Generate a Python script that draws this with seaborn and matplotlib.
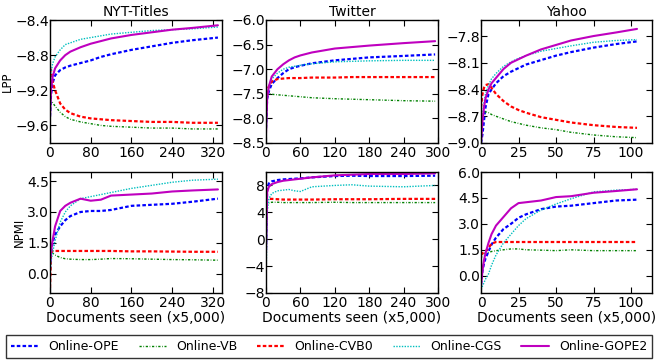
import numpy as np
import pandas as pd
import matplotlib
matplotlib.use("Agg")
import matplotlib.pyplot as plt
import seaborn as sns

# ---------------- data ----------------
methods = ["Online-OPE", "Online-VB", "Online-CVB0", "Online-CGS", "Online-GOPE2"]
datasets = ["NYT-Titles", "Twitter", "Yahoo"]

nyt_x = [0, 2, 5, 10, 20, 30, 40, 60, 80, 100, 120, 160, 200, 240, 280, 330]
nyt_lpp_ope = [-9.5, -9.25, -9.12, -9.03, -8.97, -8.94, -8.92, -8.89, -8.86, -8.82, -8.79, -8.74, -8.70, -8.66, -8.63, -8.60]
nyt_lpp_vb = [-9.3, -9.32, -9.34, -9.38, -9.45, -9.50, -9.53, -9.56, -9.58, -9.60, -9.61, -9.62, -9.63, -9.63, -9.64, -9.64]
nyt_lpp_cvb0 = [-8.95, -8.97, -9.1, -9.2, -9.35, -9.42, -9.46, -9.50, -9.52, -9.53, -9.54, -9.55, -9.56, -9.56, -9.57, -9.57]
nyt_lpp_cgs = [-9.2, -9.0, -8.9, -8.82, -8.74, -8.68, -8.66, -8.62, -8.60, -8.58, -8.56, -8.54, -8.52, -8.51, -8.50, -8.48]
nyt_lpp_gope2 = [-9.5, -9.2, -9.05, -8.95, -8.86, -8.80, -8.76, -8.71, -8.67, -8.64, -8.61, -8.57, -8.54, -8.51, -8.49, -8.46]

nyt_npmi_ope = [0.2, 1.0, 1.5, 1.9, 2.3, 2.6, 2.8, 3.0, 3.05, 3.05, 3.1, 3.3, 3.35, 3.4, 3.5, 3.65]
nyt_npmi_vb = [1.3, 1.1, 1.0, 0.9, 0.78, 0.72, 0.7, 0.68, 0.68, 0.7, 0.73, 0.72, 0.7, 0.68, 0.67, 0.65]
nyt_npmi_cvb0 = [-0.7, 1.0, 1.1, 1.1, 1.1, 1.1, 1.1, 1.1, 1.1, 1.1, 1.1, 1.08, 1.08, 1.07, 1.06, 1.06]
nyt_npmi_cgs = [0.0, 0.6, 1.0, 1.6, 2.5, 3.0, 3.3, 3.65, 3.75, 3.85, 3.95, 4.15, 4.3, 4.45, 4.55, 4.6]
nyt_npmi_gope2 = [0.5, 1.1, 1.6, 2.3, 3.05, 3.3, 3.45, 3.65, 3.55, 3.6, 3.8, 3.85, 3.9, 4.0, 4.05, 4.1]

tw_x = [0, 2, 5, 10, 20, 30, 40, 50, 60, 80, 120, 150, 180, 240, 295]
tw_lpp_ope = [-8.2, -7.6, -7.45, -7.3, -7.18, -7.08, -7.0, -6.96, -6.93, -6.88, -6.82, -6.79, -6.76, -6.73, -6.70]
tw_lpp_vb = [-7.5, -7.5, -7.5, -7.51, -7.52, -7.53, -7.54, -7.55, -7.56, -7.58, -7.60, -7.61, -7.62, -7.64, -7.65]
tw_lpp_cvb0 = [-7.5, -7.45, -7.35, -7.25, -7.2, -7.19, -7.18, -7.18, -7.18, -7.17, -7.17, -7.16, -7.16, -7.16, -7.16]
tw_lpp_cgs = [-8.4, -7.6, -7.35, -7.2, -7.08, -7.0, -6.96, -6.94, -6.92, -6.89, -6.85, -6.84, -6.83, -6.82, -6.82]
tw_lpp_gope2 = [-8.3, -7.6, -7.35, -7.15, -7.0, -6.9, -6.82, -6.76, -6.72, -6.66, -6.58, -6.55, -6.52, -6.47, -6.43]

tw_npmi_ope = [-1.5, 7.5, 8.3, 8.6, 8.8, 8.9, 8.95, 9.0, 9.05, 9.2, 9.4, 9.45, 9.4, 9.4, 9.45]
tw_npmi_vb = [5.0, 5.3, 5.4, 5.5, 5.5, 5.45, 5.45, 5.45, 5.45, 5.45, 5.5, 5.45, 5.45, 5.45, 5.45]
tw_npmi_cvb0 = [5.5, 5.9, 6.0, 6.0, 5.95, 5.9, 5.9, 5.9, 5.9, 5.9, 5.95, 5.95, 5.95, 6.0, 6.0]
tw_npmi_cgs = [-7.0, 4.0, 6.0, 6.8, 7.2, 7.3, 7.4, 7.2, 7.1, 7.8, 8.0, 8.1, 7.9, 7.8, 8.0]
tw_npmi_gope2 = [-2.0, 7.0, 7.8, 8.2, 8.5, 8.7, 8.8, 8.9, 9.0, 9.2, 9.5, 9.6, 9.7, 9.7, 9.8]

ya_x = [0, 1, 2, 3, 5, 7, 10, 15, 20, 25, 30, 40, 50, 60, 75, 90, 104]
ya_lpp_ope = [-9.0, -8.9, -8.75, -8.6, -8.45, -8.4, -8.33, -8.25, -8.2, -8.16, -8.12, -8.07, -8.02, -7.98, -7.93, -7.89, -7.86]
ya_lpp_vb = [-9.0, -8.75, -8.66, -8.65, -8.66, -8.68, -8.7, -8.73, -8.76, -8.78, -8.8, -8.83, -8.85, -8.88, -8.91, -8.93, -8.94]
ya_lpp_cvb0 = [-8.6, -8.45, -8.38, -8.35, -8.34, -8.38, -8.45, -8.53, -8.59, -8.63, -8.66, -8.71, -8.74, -8.77, -8.8, -8.82, -8.83]
ya_lpp_cgs = [-8.9, -8.7, -8.55, -8.45, -8.35, -8.28, -8.22, -8.14, -8.09, -8.05, -8.02, -7.97, -7.94, -7.91, -7.87, -7.85, -7.84]
ya_lpp_gope2 = [-9.0, -8.75, -8.6, -8.5, -8.4, -8.33, -8.27, -8.17, -8.1, -8.06, -8.02, -7.95, -7.9, -7.85, -7.8, -7.76, -7.72]

ya_npmi_ope = [-0.5, 0.3, 0.7, 1.0, 1.4, 1.8, 2.2, 2.7, 3.0, 3.35, 3.55, 3.85, 4.0, 4.05, 4.2, 4.35, 4.4]
ya_npmi_vb = [1.0, 1.2, 1.3, 1.3, 1.35, 1.4, 1.45, 1.5, 1.55, 1.55, 1.5, 1.48, 1.45, 1.5, 1.45, 1.45, 1.45]
ya_npmi_cvb0 = [1.2, 1.3, 1.35, 1.4, 1.6, 1.85, 1.95, 1.95, 1.95, 1.95, 1.95, 1.95, 1.95, 1.95, 1.95, 1.95, 1.95]
ya_npmi_cgs = [-0.8, -0.6, -0.4, -0.2, 0.1, 0.6, 1.2, 1.9, 2.4, 2.9, 3.3, 3.8, 4.15, 4.45, 4.85, 4.95, 5.0]
ya_npmi_gope2 = [-0.6, 0.3, 0.9, 1.3, 1.9, 2.4, 2.9, 3.4, 3.9, 4.2, 4.25, 4.35, 4.55, 4.6, 4.8, 4.9, 5.0]

# tick labels / limits
nyt_xticks = [0, 80, 160, 240, 320]
tw_xticks = [0, 60, 120, 180, 240, 300]
ya_xticks = [0, 25, 50, 75, 100]
lpp_yticks = [[-9.6, -9.2, -8.8, -8.4], [-8.5, -8.0, -7.5, -7.0, -6.5, -6.0], [-9.0, -8.7, -8.4, -8.1, -7.8]]
npmi_yticks = [[0.0, 1.5, 3.0, 4.5], [-8, -4, 0, 4, 8], [0.0, 1.5, 3.0, 4.5, 6.0]]

# ---------------- style ----------------
sns.set_style("white")
plt.rcParams.update({
    "font.family": ["DejaVu Sans"],
    "axes.edgecolor": "black",
    "axes.linewidth": 1.0,
    "xtick.direction": "in",
    "ytick.direction": "in",
    "xtick.top": True,
    "ytick.right": True,
    "xtick.bottom": True,
    "ytick.left": True,
    "xtick.major.size": 4,
    "ytick.major.size": 4,
    "xtick.color": "black",
    "ytick.color": "black",
    "axes.labelcolor": "black",
    "text.color": "black",
})

styles = {
    "Online-OPE": dict(color=(0, 0, 1), linestyle=(0, (1.6, 1.0)), lw=1.6),
    "Online-VB": dict(color=(0, 0.5, 0), linestyle=(0, (1.6, 1.2, 0.5, 1.2)), lw=1.0),
    "Online-CVB0": dict(color=(1, 0, 0), linestyle=(0, (1.6, 1.0)), lw=1.6),
    "Online-CGS": dict(color=(0, 0.75, 0.75), linestyle=(0, (1.0, 1.0)), lw=1.0),
    "Online-GOPE2": dict(color=(0.75, 0, 0.75), linestyle="-", lw=1.5),
}

xs = [nyt_x, tw_x, ya_x]
lpp = [
    [nyt_lpp_ope, nyt_lpp_vb, nyt_lpp_cvb0, nyt_lpp_cgs, nyt_lpp_gope2],
    [tw_lpp_ope, tw_lpp_vb, tw_lpp_cvb0, tw_lpp_cgs, tw_lpp_gope2],
    [ya_lpp_ope, ya_lpp_vb, ya_lpp_cvb0, ya_lpp_cgs, ya_lpp_gope2],
]
npmi = [
    [nyt_npmi_ope, nyt_npmi_vb, nyt_npmi_cvb0, nyt_npmi_cgs, nyt_npmi_gope2],
    [tw_npmi_ope, tw_npmi_vb, tw_npmi_cvb0, tw_npmi_cgs, tw_npmi_gope2],
    [ya_npmi_ope, ya_npmi_vb, ya_npmi_cvb0, ya_npmi_cgs, ya_npmi_gope2],
]
xticks = [nyt_xticks, tw_xticks, ya_xticks]
xlims = [(0, 338), (0, 300), (0, 114)]
lpp_ylims = [(-9.8, -8.4), (-8.5, -6.0), (-9.0, -7.62)]
npmi_ylims = [(-0.95, 4.95), (-8, 10), (-1.0, 6.0)]

fig = plt.figure(figsize=(6.57, 3.61), dpi=100)
W, H = 657, 361
cols = [(50, 222), (266, 438), (481, 652)]
rows = [(20, 143), (172, 293)]

FS = 10
handles = None
for r, (metric, ylims, yticks) in enumerate([(lpp, lpp_ylims, lpp_yticks), (npmi, npmi_ylims, npmi_yticks)]):
    for c in range(3):
        x0, x1 = cols[c]
        y0, y1 = rows[r]
        ax = fig.add_axes([x0 / W, 1 - y1 / H, (x1 - x0) / W, (y1 - y0) / H])
        for m, vals in zip(methods, metric[c]):
            df = pd.DataFrame({"x": xs[c], "y": vals})
            sns.lineplot(data=df, x="x", y="y", ax=ax, label=m, **styles[m])
        ax.set_xlim(*xlims[c])
        ax.set_ylim(*ylims[c])
        ax.set_xticks(xticks[c])
        ax.set_yticks(yticks[c])
        ax.tick_params(axis="x", labelsize=FS, pad=2)
        ax.tick_params(axis="y", labelsize=FS, pad=0.5)
        if handles is None:
            handles, labels = ax.get_legend_handles_labels()
        ax.get_legend().remove()
        ax.set_ylabel("")
        ax.set_xlabel("")
        if r == 0:
            ax.set_title(datasets[c], fontsize=FS, pad=3)
        else:
            ax.set_xlabel("Documents seen (x5,000)", fontsize=FS, labelpad=1)
        if c == 0:
            ax.set_ylabel("LPP" if r == 0 else "NPMI", fontsize=8.5, labelpad=1)

leg = fig.legend(handles, labels, loc="lower left", ncol=5, mode="expand",
                 bbox_to_anchor=(6 / W, 1 - 358 / H, 646 / W, 25 / H),
                 fontsize=9, frameon=True, fancybox=False, borderaxespad=0,
                 handlelength=2.2, columnspacing=1.0)
leg.get_frame().set_edgecolor("black")
leg.get_frame().set_linewidth(1.0)

fig.savefig("out.png", dpi=100)
